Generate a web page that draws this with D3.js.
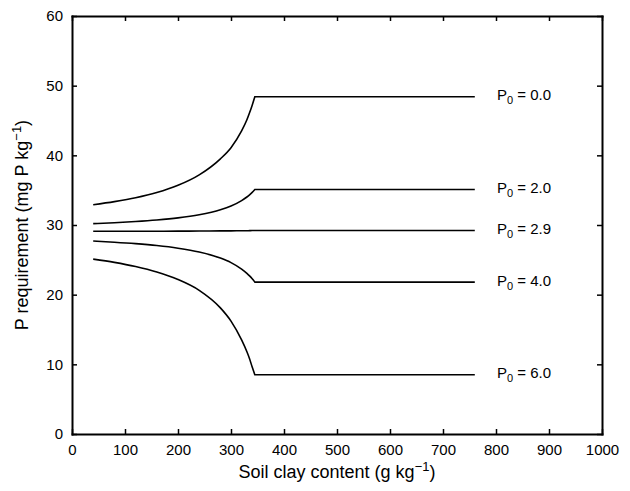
<!DOCTYPE html>
<html>
<head>
<meta charset="utf-8">
<script src="https://cdn.jsdelivr.net/npm/d3@7"></script>
<style>
  body { margin: 0; background: #fff; }
  text { font-family: "Liberation Sans", Arial, sans-serif; fill: #000; }
</style>
</head>
<body>
<svg id="chart" width="630" height="491"></svg>
<script>
// clay content points (g/kg) along the curved part, flat part runs on to flatEnd
var clayX = [40, 80, 120, 160, 200, 240, 280, 300, 320, 330, 335, 340, 345];
var flatEnd = 760;

// P requirement (mg P/kg) for each P0
var p0Names = ['0.0', '2.0', '2.9', '4.0', '6.0'];
var reqP00 = [32.9, 33.35, 33.9, 34.65, 35.7, 37.2, 39.5, 41.1, 43.5, 45.1, 46.1, 47.2, 48.4];
var reqP20 = [30.2, 30.33, 30.5, 30.72, 31.02, 31.47, 32.18, 32.72, 33.49, 34.02, 34.33, 34.69, 35.1];
var reqP29 = [29.1, 29.1, 29.1, 29.1, 29.12, 29.13, 29.15, 29.16, 29.17, 29.18, 29.19, 29.2, 29.2];
var reqP40 = [27.7, 27.53, 27.32, 27.05, 26.67, 26.12, 25.25, 24.6, 23.67, 23.05, 22.69, 22.27, 21.8];
var reqP60 = [25.1, 24.63, 24.03, 23.24, 22.17, 20.62, 18.1, 16.2, 13.5, 11.8, 10.8, 9.6, 8.5];
var allReq = [reqP00, reqP20, reqP29, reqP40, reqP60];

var xTicks = d3.range(0, 1001, 100);
var yTicks = d3.range(0, 61, 10);

var svg = d3.select('#chart');
var margin = {left: 72, right: 28, top: 16, bottom: 57};
var W = 630, H = 491;

var x = d3.scaleLinear().domain([0, 1000]).range([margin.left, W - margin.right]);
var y = d3.scaleLinear().domain([0, 60]).range([H - margin.bottom, margin.top]);

// box with inward ticks on all four sides
var tickLen = 5;
svg.append('g').attr('transform', 'translate(0,' + y(0) + ')')
  .call(d3.axisBottom(x).tickValues(xTicks).tickFormat(d3.format('d'))
    .tickSizeInner(-tickLen).tickSizeOuter(0).tickPadding(10))
  .call(function(g) { g.selectAll('text').attr('font-size', 15).attr('dy', '0.71em'); });
svg.append('g').attr('transform', 'translate(0,' + y(60) + ')')
  .call(d3.axisTop(x).tickValues(xTicks).tickSizeInner(-tickLen).tickSizeOuter(0).tickFormat(''));
svg.append('g').attr('transform', 'translate(' + x(0) + ',0)')
  .call(d3.axisLeft(y).tickValues(yTicks).tickSizeInner(-tickLen).tickSizeOuter(0).tickPadding(9))
  .call(function(g) { g.selectAll('text').attr('font-size', 15); });
svg.append('g').attr('transform', 'translate(' + x(1000) + ',0)')
  .call(d3.axisRight(y).tickValues(yTicks).tickSizeInner(-tickLen).tickSizeOuter(0).tickFormat(''));

svg.selectAll('.domain').attr('stroke', '#000').attr('stroke-width', 2).attr('stroke-linecap', 'square');
svg.selectAll('.tick line').attr('stroke', '#000').attr('stroke-width', 1.5);

var curve = d3.line()
  .x(function(d) { return x(d[0]); })
  .y(function(d) { return y(d[1]); })
  .curve(d3.curveMonotoneX);

allReq.forEach(function(vals, k) {
  var pts = clayX.map(function(c, i) { return [c, vals[i]]; });
  var last = vals[vals.length - 1];
  // curved part, then straight flat line out to flatEnd
  svg.append('path')
    .attr('d', curve(pts) + 'L' + x(flatEnd) + ',' + y(last))
    .attr('fill', 'none')
    .attr('stroke', '#000')
    .attr('stroke-width', 1.6);

  var lab = svg.append('text')
    .attr('x', 497)
    .attr('y', y(last) + 3.5)
    .attr('font-size', 15);
  lab.append('tspan').text('P');
  lab.append('tspan').attr('font-size', 11).attr('dy', 4).text('0');
  lab.append('tspan').attr('dy', -4).text(' = ' + p0Names[k]);
});

// axis titles
var xt = svg.append('text')
  .attr('x', (x(0) + x(1000)) / 2)
  .attr('y', 478)
  .attr('text-anchor', 'middle')
  .attr('font-size', 18);
xt.append('tspan').text('Soil clay content (g kg');
xt.append('tspan').attr('font-size', 13).attr('dy', -7).text('\u22121');
xt.append('tspan').attr('dy', 7).text(')');

var yt = svg.append('text')
  .attr('transform', 'translate(28,' + (y(0) + y(60)) / 2 + ') rotate(-90)')
  .attr('text-anchor', 'middle')
  .attr('font-size', 18);
yt.append('tspan').text('P requirement (mg P kg');
yt.append('tspan').attr('font-size', 13).attr('dy', -7).text('\u22121');
yt.append('tspan').attr('dy', 7).text(')');
</script>
</body>
</html>
